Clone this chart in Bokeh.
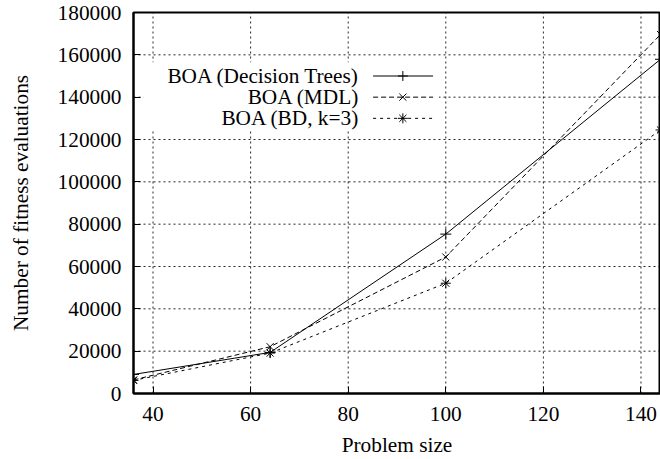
from bokeh.plotting import figure
from bokeh.models import Range1d, FixedTicker, BasicTickFormatter
from bokeh.core.properties import value
from bokeh.embed import file_html
from bokeh.resources import INLINE

# ---- data ----
problem_size = [36, 64, 100, 144]
dt_evals = [9000, 19400, 75300, 157900]
mdl_evals = [6400, 22100, 64500, 169600]
bd_evals = [6200, 19100, 52100, 124500]

series_names = ["BOA (Decision Trees)", "BOA (MDL)", "BOA (BD, k=3)"]
x_ticks = [40, 60, 80, 100, 120, 140]
y_ticks = list(range(0, 180001, 20000))
x_lo, x_hi = 36, 144
y_lo, y_hi = 0, 180000

FONT = "Liberation Serif"
FS = "21.3px"

p = figure(width=660, height=459, output_backend="svg", toolbar_location=None,
           x_range=Range1d(x_lo, x_hi), y_range=Range1d(y_lo, y_hi),
           min_border_left=133, min_border_right=0, min_border_top=12, min_border_bottom=10)
p.background_fill_color = "white"
p.border_fill_color = "white"
p.outline_line_color = "black"
p.outline_line_width = 2

for ax in (p.xaxis[0], p.yaxis[0]):
    ax.axis_line_width = 2
    ax.major_tick_in = 7
    ax.major_tick_out = 0
    ax.minor_tick_line_color = None
    ax.major_label_text_font = FONT
    ax.major_label_text_font_size = FS
    ax.major_label_text_color = "black"
    ax.axis_label_text_font = FONT
    ax.axis_label_text_font_size = FS
    ax.axis_label_text_font_style = "normal"
    ax.axis_label_text_color = "black"

p.xaxis[0].ticker = FixedTicker(ticks=x_ticks)
p.yaxis[0].ticker = FixedTicker(ticks=y_ticks)
p.yaxis[0].formatter = BasicTickFormatter(use_scientific=False)
p.xaxis[0].axis_label = "Problem size"
p.yaxis[0].axis_label = "Number of fitness evaluations"
p.xaxis[0].major_label_standoff = 13
p.xaxis[0].axis_label_standoff = 9
p.yaxis[0].major_label_standoff = 12
p.yaxis[0].axis_label_standoff = 22

# built-in grid off; dotted grid drawn as glyphs at the tick values
p.xgrid.grid_line_color = None
p.ygrid.grid_line_color = None
p.segment(x0=x_ticks, y0=[y_lo] * len(x_ticks), x1=x_ticks, y1=[y_hi] * len(x_ticks),
          line_color="black", line_width=1, line_dash="2 3", line_alpha=0.85)
p.segment(x0=[x_lo] * len(y_ticks), y0=y_ticks, x1=[x_hi] * len(y_ticks), y1=y_ticks,
          line_color="black", line_width=1, line_dash="2 3", line_alpha=0.85)

# ---- series ----
p.line(problem_size, dt_evals, line_color="black", line_width=1)
p.scatter(problem_size, dt_evals, marker="cross", size=11, line_color="black", line_width=1)

p.line(problem_size, mdl_evals, line_color="black", line_width=1, line_dash="5 3")
p.scatter(problem_size, mdl_evals, marker="x", size=10, line_color="black", line_width=1)

p.line(problem_size, bd_evals, line_color="black", line_width=1, line_dash="3 4")
p.scatter(problem_size, bd_evals, marker="asterisk", size=10, line_color="black", line_width=1)

# ---- key (gnuplot style: label then sample) ----
key_rows = [150000, 140000, 130000]
key_text_x = 82.3
key_x0, key_x1, key_xm = 85.1, 97.4, 91.2
p.quad(left=[38.0], right=[98.6], bottom=[124500], top=[156500],
       fill_color="white", line_color=None)
p.text(x=[key_text_x] * 3, y=key_rows, text=series_names,
       text_font=value(FONT), text_font_size=FS, text_align="right",
       text_baseline="middle", text_color="black")
dashes = ["solid", "5 3", "3 4"]
markers = ["cross", "x", "asterisk"]
for yk, d, m in zip(key_rows, dashes, markers):
    p.line([key_x0, key_x1], [yk, yk], line_color="black", line_width=1, line_dash=d)
    p.scatter([key_xm], [yk], marker=m, size=10, line_color="black", line_width=1)

open("out.html", "w").write(file_html(p, INLINE))
